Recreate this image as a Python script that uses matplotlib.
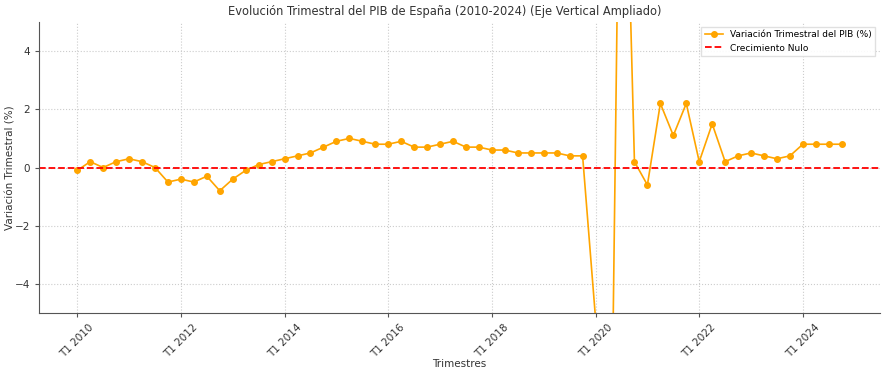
import matplotlib
matplotlib.use('Agg')
import matplotlib.pyplot as plt
import numpy as np

years = list(range(2010, 2025))
quarters = [f'T{q} {y}' for y in years for q in range(1, 5)]

variacion = [
    -0.1, 0.2, 0.0, 0.2,     # 2010
    0.3, 0.2, 0.0, -0.5,     # 2011
    -0.4, -0.5, -0.3, -0.8,  # 2012
    -0.4, -0.1, 0.1, 0.2,    # 2013
    0.3, 0.4, 0.5, 0.7,      # 2014
    0.9, 1.0, 0.9, 0.8,      # 2015
    0.8, 0.9, 0.7, 0.7,      # 2016
    0.8, 0.9, 0.7, 0.7,      # 2017
    0.6, 0.6, 0.5, 0.5,      # 2018
    0.5, 0.5, 0.4, 0.4,      # 2019
    -5.2, -17.8, 17.1, 0.2,  # 2020
    -0.6, 2.2, 1.1, 2.2,     # 2021
    0.2, 1.5, 0.2, 0.4,      # 2022
    0.5, 0.4, 0.3, 0.4,      # 2023
    0.8, 0.8, 0.8, 0.8,      # 2024
]

x = np.arange(len(quarters))

fig = plt.figure(figsize=(8.86, 3.76), dpi=100)
ax = fig.add_axes([39/886, 1 - 313/376, (880-39)/886, (313-22)/376])

ax.plot(x, variacion, marker='o', color='orange', markersize=4, linewidth=1.2,
        label='Variación Trimestral del PIB (%)')
ax.axhline(0, color='red', linestyle='--', linewidth=1.3, label='Crecimiento Nulo')

ax.set_ylim(-5, 5)
ax.set_title('Evolución Trimestral del PIB de España (2010-2024) (Eje Vertical Ampliado)',
             fontsize=8.3, color='#333333', pad=5, x=(445-39)/841)
ax.set_xlabel('Trimestres', fontsize=7.5, color='#333333', labelpad=0)
ax.set_ylabel('Variación Trimestral (%)', fontsize=7.5, color='#333333', labelpad=-1)

ticks = x[::8]
ax.set_xticks(ticks)
ax.set_xticklabels([quarters[i] for i in ticks], rotation=45, fontsize=7.5, color='#333333')
ax.tick_params(axis='y', labelsize=7.5, labelcolor='#333333')
ax.tick_params(length=3, width=0.8, color='#555555')

ax.grid(True, linestyle=':', color='#cccccc', linewidth=0.8)
for s in ['top', 'right']:
    ax.spines[s].set_visible(False)
for s in ['left', 'bottom']:
    ax.spines[s].set_color('#555555')

ax.legend(loc='upper right', fontsize=6.5, framealpha=0.9, edgecolor='#dddddd', fancybox=False)

fig.savefig('out.png', dpi=100)
